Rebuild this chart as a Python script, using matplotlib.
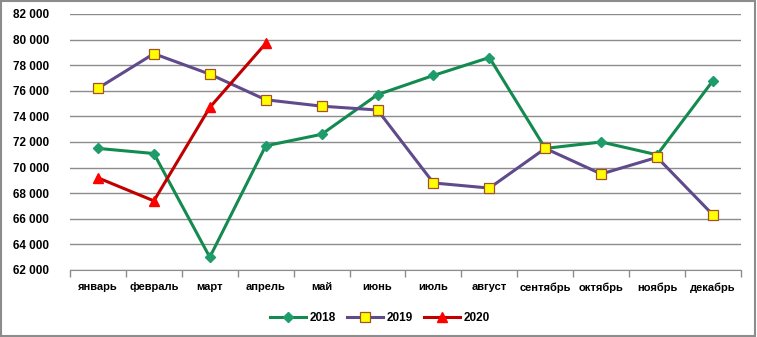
import matplotlib
matplotlib.use("Agg")
import matplotlib.pyplot as plt
from matplotlib.patches import Rectangle
from matplotlib.ticker import FuncFormatter, FixedLocator

months = ["январь", "февраль", "март", "апрель", "май", "июнь",
          "июль", "август", "сентябрь", "октябрь", "ноябрь", "декабрь"]
y2018 = [71500, 71100, 63000, 71700, 72600, 75700, 77200, 78600, 71500, 72000, 71000, 76800]
y2019 = [76200, 78900, 77300, 75300, 74800, 74500, 68800, 68400, 71500, 69500, 70800, 66300]
y2020 = [69200, 67400, 74700, 79700]
yticks = list(range(62000, 82001, 2000))

plt.rcParams["font.family"] = ["Liberation Sans", "DejaVu Sans"]

fig = plt.figure(figsize=(7.57, 3.37), dpi=100)
ax = fig.add_axes([70 / 757, 1 - 270 / 337, 671 / 757, 256 / 337])

x = list(range(len(months)))
ax.plot(x, y2018, color="#138A4F", lw=2.2, marker="D", ms=5,
        mfc="#1E9C6C", mec="#1E9C6C", label="2018", zorder=3)
ax.plot(x, y2019, color="#5F4A8B", lw=2.2, marker="s", ms=6.5,
        mfc="#FFFF00", mec="#A0522D", mew=0.9, label="2019", zorder=4)
ax.plot(x[:len(y2020)], y2020, color="#C00000", lw=2.2, marker="^", ms=7,
        mfc="#FF0000", mec="#FF0000", label="2020", zorder=5)

ax.set_xlim(-0.5, len(months) - 0.5)
ax.set_ylim(yticks[0], yticks[-1])
ax.set_yticks(yticks)
ax.yaxis.set_major_formatter(FuncFormatter(lambda v, p: f"{int(v):,}".replace(",", " ")))
ax.grid(axis="y", color="#8C8C8C", lw=1)
ax.set_axisbelow(True)

ax.set_xticks(x)
ax.set_xticklabels(months)
ax.xaxis.set_minor_locator(FixedLocator([i - 0.5 for i in range(len(months) + 1)]))
ax.tick_params(axis="x", which="major", length=0, pad=9, labelsize=8)
ax.tick_params(axis="x", which="minor", length=5, color="#8C8C8C", width=1)
ax.tick_params(axis="y", length=0, pad=15, labelsize=8.5)
for lbl in ax.get_xticklabels() + ax.get_yticklabels():
    lbl.set_fontweight("bold")

for side in ("left", "right", "top"):
    ax.spines[side].set_visible(False)
ax.spines["bottom"].set_color("#8C8C8C")

leg = fig.legend(loc="center", bbox_to_anchor=(380 / 757, 1 - 318 / 337), ncol=3,
                 frameon=False, prop={"weight": "bold", "size": 8.5},
                 handlelength=3.0, columnspacing=1.0, handletextpad=0.3,
                 markerscale=1.1)

fig.patches.append(Rectangle((0.001, 0.002), 0.997, 0.995, transform=fig.transFigure,
                             fill=False, edgecolor="#8C8C8C", lw=1.5))

fig.savefig("out.png", dpi=100)
